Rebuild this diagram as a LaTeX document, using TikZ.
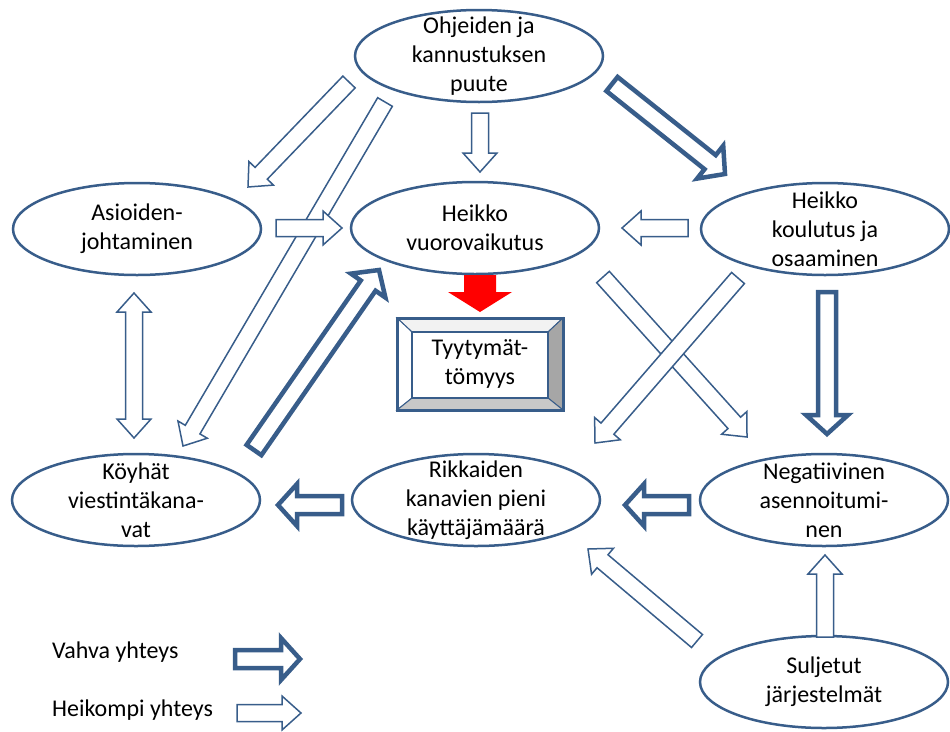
\documentclass[tikz,border=0pt]{standalone}
\usepackage{fontspec}
\setmainfont{Carlito}
\usepackage{tikz}
\usetikzlibrary{shapes.geometric,calc}

\definecolor{lineblue}{HTML}{385D8A}
\definecolor{bevellight}{HTML}{F2F2F2}
\definecolor{bevelmid}{HTML}{C8C8C8}
\definecolor{beveldark}{HTML}{A6A6A6}

% block arrow from #2 to #3, sizes come from the style #1
\newcommand\blockarrow[3][weak]{%
  \path[#1,draw=none,fill=none] ($(#3)!\headlen!(#2)$) coordinate (ba-base);
  \draw[#1] ($(#2)!\shaftw!90:(#3)$) -- ($(ba-base)!\shaftw!90:(#3)$)
    -- ($(ba-base)!\headw!90:(#3)$) -- (#3)
    -- ($(ba-base)!\headw!-90:(#3)$) -- ($(ba-base)!\shaftw!-90:(#3)$)
    -- ($(#2)!\shaftw!-90:(#3)$) -- cycle;}
% same, with a head at both ends
\newcommand\doublearrow[3][weak]{%
  \path[#1,draw=none,fill=none] ($(#3)!\headlen!(#2)$) coordinate (ba-one)
    ($(#2)!\headlen!(#3)$) coordinate (ba-two);
  \draw[#1] (#2) -- ($(ba-two)!\headw!90:(#3)$) -- ($(ba-two)!\shaftw!90:(#3)$)
    -- ($(ba-one)!\shaftw!90:(#3)$) -- ($(ba-one)!\headw!90:(#3)$) -- (#3)
    -- ($(ba-one)!\headw!-90:(#3)$) -- ($(ba-one)!\shaftw!-90:(#3)$)
    -- ($(ba-two)!\shaftw!-90:(#3)$) -- ($(ba-two)!\headw!-90:(#3)$) -- cycle;}

\begin{document}
\begin{tikzpicture}
[
  x=1pt, y=-1pt,
  idea/.style    = {shape=ellipse, draw=lineblue, line width=2.5pt,
                    minimum width=248pt, minimum height=92pt,
                    inner xsep=0pt, inner ysep=-15pt, align=center,
                    font=\fontsize{24}{29}\selectfont},
  outcome/.style = {shape=rectangle, minimum width=166pt, minimum height=92pt,
                    outer sep=0pt, align=center, font=\fontsize{24}{29}\selectfont},
  legend/.style  = {anchor=west, inner sep=0pt, font=\fontsize{24}{29}\selectfont},
  weak/.style    = {draw=lineblue, fill=white, line width=1.5pt, line join=miter,
                    /utils/exec={\def\shaftw{8.5pt}\def\headw{17pt}\def\headlen{19pt}}},
  strong/.style  = {draw=lineblue, fill=white, line width=4.5pt, line join=miter,
                    /utils/exec={\def\shaftw{9pt}\def\headw{21pt}\def\headlen{19pt}}},
  cause/.style   = {draw=none, fill=red,
                    /utils/exec={\def\shaftw{16pt}\def\headw{32pt}\def\headlen{20pt}}}
]
\useasboundingbox (0,0) rectangle (950,731);

% the ideas
\node [idea] (ohj) at (479,56)  {Ohjeiden ja\\kannustuksen\\puute};
\node [idea] (asi) at (137,229) {Asioiden-\\johtaminen};
\node [idea] (hv)  at (475,228) {Heikko\\vuorovaikutus};
\node [idea] (hk)  at (825,229) {Heikko\\koulutus ja\\osaaminen};
\node [idea] (koy) at (136,500) {Köyhät\\viestintäkana-\\vat};
\node [idea] (rik) at (476,500) {Rikkaiden\\kanavien pieni\\käyttäjämäärä};
\node [idea] (neg) at (824,500) {Negatiivinen\\asennoitumi-\\nen};
\node [idea] (sul) at (824,682) {Suljetut\\järjestelmät};

% the bevelled result box
\node [outcome] (tyy) at (480,364) {Tyytymät-\\tömyys};
\coordinate (tyy-a) at ($(tyy.north west)+(15,14)$);
\coordinate (tyy-b) at ($(tyy.north east)+(-15,14)$);
\coordinate (tyy-c) at ($(tyy.south east)+(-15,-12)$);
\coordinate (tyy-d) at ($(tyy.south west)+(15,-12)$);
\filldraw [fill=bevellight, draw=lineblue, line width=1pt]
  (tyy.north west) -- (tyy.north east) -- (tyy-b) -- (tyy-a) -- cycle;
\filldraw [fill=white, draw=lineblue, line width=1pt]
  (tyy.north west) -- (tyy-a) -- (tyy-d) -- (tyy.south west) -- cycle;
\filldraw [fill=beveldark, draw=lineblue, line width=1pt]
  (tyy.north east) -- (tyy.south east) -- (tyy-c) -- (tyy-b) -- cycle;
\filldraw [fill=bevelmid, draw=lineblue, line width=1pt]
  (tyy.south west) -- (tyy-d) -- (tyy-c) -- (tyy.south east) -- cycle;
\draw [lineblue, line width=2.5pt] (tyy-a) rectangle (tyy-c);
\draw [lineblue, line width=3pt] (tyy.north west) rectangle (tyy.south east);

% arrow ends
\coordinate (ohj-asi-s) at (349,82);  \coordinate (ohj-asi-e) at (248,187);
\coordinate (ohj-koy-s) at (385,102); \coordinate (ohj-koy-e) at (183,446);
\coordinate (ohj-hv-s)  at (480,113); \coordinate (ohj-hv-e)  at (480,172);
\coordinate (ohj-hk-s)  at (612,84);  \coordinate (ohj-hk-e)  at (725,174);
\coordinate (asi-hv-s)  at (276,228); \coordinate (asi-hv-e)  at (342,228);
\coordinate (hk-hv-s)   at (688,228); \coordinate (hk-hv-e)   at (622,228);
\coordinate (asi-koy-s) at (134,293); \coordinate (asi-koy-e) at (134,438);
\coordinate (koy-hv-s)  at (254,450); \coordinate (koy-hv-e)  at (379,270);
\coordinate (hv-neg-s)  at (603,277); \coordinate (hv-neg-e)  at (747,437);
\coordinate (hk-rik-s)  at (738,278); \coordinate (hk-rik-e)  at (595,443);
\coordinate (hk-neg-s)  at (827,292); \coordinate (hk-neg-e)  at (827,434);
\coordinate (neg-rik-s) at (689,505); \coordinate (neg-rik-e) at (625,505);
\coordinate (rik-koy-s) at (342,505); \coordinate (rik-koy-e) at (278,505);
\coordinate (sul-rik-s) at (697,641); \coordinate (sul-rik-e) at (588,549);
\coordinate (sul-neg-s) at (825,637); \coordinate (sul-neg-e) at (825,555);
\coordinate (hv-tyy-s)  at (480,275); \coordinate (hv-tyy-e)  at (480,312);

\blockarrow[weak]{ohj-asi-s}{ohj-asi-e}
\blockarrow[weak]{ohj-koy-s}{ohj-koy-e}
\blockarrow[weak]{ohj-hv-s}{ohj-hv-e}
\blockarrow[strong]{ohj-hk-s}{ohj-hk-e}
\blockarrow[weak]{asi-hv-s}{asi-hv-e}
\blockarrow[weak]{hk-hv-s}{hk-hv-e}
\doublearrow[weak]{asi-koy-s}{asi-koy-e}
\blockarrow[strong]{koy-hv-s}{koy-hv-e}
\blockarrow[weak]{hv-neg-s}{hv-neg-e}
\blockarrow[weak]{hk-rik-s}{hk-rik-e}
\blockarrow[strong]{hk-neg-s}{hk-neg-e}
\blockarrow[strong]{neg-rik-s}{neg-rik-e}
\blockarrow[strong]{rik-koy-s}{rik-koy-e}
\blockarrow[weak]{sul-rik-s}{sul-rik-e}
\blockarrow[weak]{sul-neg-s}{sul-neg-e}
\blockarrow[cause]{hv-tyy-s}{hv-tyy-e}

% legend
\node [legend] (vahva) at (52,652) {Vahva yhteys};
\node [legend] (heikompi) at (52,710) {Heikompi yhteys};
\coordinate (vahva-s) at (235,659);    \coordinate (vahva-e) at (300,659);
\coordinate (heikompi-s) at (237,713); \coordinate (heikompi-e) at (301,713);
\blockarrow[strong]{vahva-s}{vahva-e}
\blockarrow[weak]{heikompi-s}{heikompi-e}
\end{tikzpicture}
\end{document}
